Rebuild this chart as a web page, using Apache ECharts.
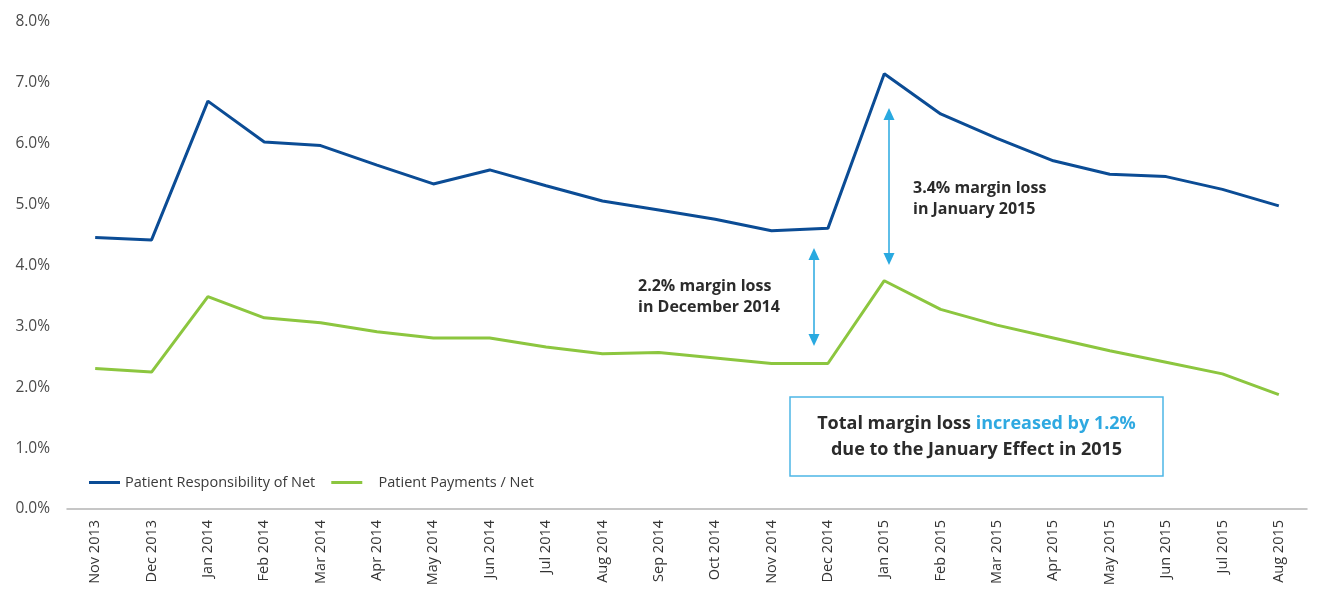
<!DOCTYPE html>
<html>
<head>
<meta charset="utf-8">
<script src="https://cdn.jsdelivr.net/npm/echarts@6/dist/echarts.min.js"></script>
<style>
  html, body { margin: 0; padding: 0; background: #fff; }
  #chart { width: 1325px; height: 589px; }
</style>
</head>
<body>
<div id="chart"></div>
<script>
const categories = ['Nov 2013','Dec 2013','Jan 2014','Feb 2014','Mar 2014','Apr 2014','May 2014','Jun 2014','Jul 2014','Aug 2014','Sep 2014','Oct 2014','Nov 2014','Dec 2014','Jan 2015','Feb 2015','Mar 2015','Apr 2015','May 2015','Jun 2015','Jul 2015','Aug 2015'];
const responsibility = [4.46, 4.42, 6.70, 6.03, 5.97, 5.65, 5.34, 5.57, 5.31, 5.06, 4.91, 4.76, 4.57, 4.61, 7.15, 6.49, 6.09, 5.72, 5.50, 5.46, 5.25, 4.98];
const payments = [2.31, 2.25, 3.49, 3.14, 3.06, 2.91, 2.81, 2.81, 2.66, 2.55, 2.57, 2.48, 2.39, 2.39, 3.75, 3.28, 3.02, 2.81, 2.60, 2.41, 2.22, 1.88];
const yTicks = [0, 1, 2, 3, 4, 5, 6, 7, 8];
const seriesNames = ['Patient Responsibility of Net', 'Patient Payments / Net'];

const BLUE = '#0b4c95';
const GREEN = '#8cc63f';
const ARROW = '#29a9e0';
const FONT = 'Open Sans';

const chart = echarts.init(document.getElementById('chart'), null, { renderer: 'canvas' });

function arrow(x, y1, y2) {
  const hw = 5.5, hh = 12;
  return [
    { type: 'line', shape: { x1: x, y1: y1 + hh - 1, x2: x, y2: y2 - hh + 1 }, style: { stroke: ARROW, lineWidth: 1.5 }, z: 10 },
    { type: 'polygon', shape: { points: [[x, y1], [x - hw, y1 + hh], [x + hw, y1 + hh]] }, style: { fill: ARROW }, z: 10 },
    { type: 'polygon', shape: { points: [[x, y2], [x - hw, y2 - hh], [x + hw, y2 - hh]] }, style: { fill: ARROW }, z: 10 }
  ];
}

const option = {
  animation: false,
  textStyle: { fontFamily: FONT },
  grid: { left: 67, right: 18, top: 22, bottom: 80, containLabel: false },
  legend: {
    left: 84, top: 470,
    icon: 'rect', itemWidth: 31, itemHeight: 3, itemGap: 16,
    textStyle: { fontFamily: FONT, fontSize: 14.5, color: '#3a3a3a' },
    formatter: function (name) { return name === seriesNames[1] ? '   ' + name : name; },
    data: seriesNames
  },
  xAxis: {
    type: 'category',
    data: categories,
    boundaryGap: true,
    axisLine: { lineStyle: { color: '#b4b4b4', width: 1.5 } },
    axisTick: { show: false },
    axisLabel: { rotate: 90, fontFamily: FONT, fontSize: 14.5, color: '#333', margin: 11, interval: 0 }
  },
  yAxis: {
    type: 'value',
    min: yTicks[0], max: yTicks[yTicks.length - 1], interval: 1,
    axisLine: { show: false },
    axisTick: { show: false },
    splitLine: { show: false },
    axisLabel: { fontFamily: FONT, fontSize: 15.5, color: '#4a4a4a', margin: 17,
      formatter: function (v) { return v.toFixed(1) + '%'; } }
  },
  series: [
    { name: seriesNames[0], type: 'line', data: responsibility, symbol: 'none',
      lineStyle: { color: BLUE, width: 3 }, itemStyle: { color: BLUE } },
    { name: seriesNames[1], type: 'line', data: payments, symbol: 'none',
      lineStyle: { color: GREEN, width: 3 }, itemStyle: { color: GREEN } }
  ],
  graphic: [].concat(
    arrow(814, 248, 346),
    arrow(889, 108, 265),
    [
      { type: 'text', left: 638, top: 276, z: 10,
        style: { text: '2.2% margin loss\nin December 2014', fontFamily: FONT, fontSize: 16, fontWeight: 'bold', fill: '#2b2b2b', lineHeight: 21 } },
      { type: 'text', left: 913, top: 178, z: 10,
        style: { text: '3.4% margin loss\nin January 2015', fontFamily: FONT, fontSize: 16, fontWeight: 'bold', fill: '#2b2b2b', lineHeight: 21 } },
      { type: 'rect', shape: { x: 790, y: 397, width: 373, height: 79 }, z: 9,
        style: { fill: '#fff', stroke: '#4db6e6', lineWidth: 1.5 } },
      { type: 'text', x: 976.5, y: 436.5, z: 10,
        style: {
          text: '{a|Total margin loss }{b|increased by 1.2%}\n{a|due to the January Effect in 2015}',
          align: 'center', verticalAlign: 'middle',
          rich: {
            a: { fontFamily: FONT, fontSize: 18, fontWeight: 'bold', fill: '#2b2b2b', lineHeight: 26 },
            b: { fontFamily: FONT, fontSize: 18, fontWeight: 'bold', fill: '#2fa9e1', lineHeight: 26 }
          }
        } }
    ]
  )
};

chart.setOption(option);
</script>
</body>
</html>
